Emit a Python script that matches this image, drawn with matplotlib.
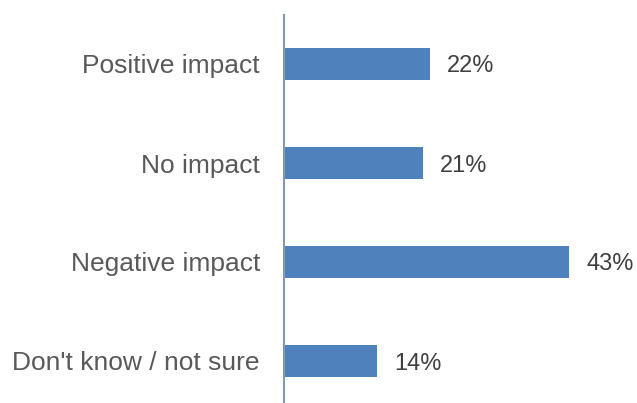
import matplotlib
matplotlib.use("Agg")
import matplotlib.pyplot as plt

categories = ["Positive impact", "No impact", "Negative impact", "Don't know / not sure"]
values = [22, 21, 43, 14]
value_labels = ["22%", "21%", "43%", "14%"]

plt.rcParams['font.family'] = ['Liberation Sans', 'DejaVu Sans']

fig = plt.figure(figsize=(6.37, 4.03), dpi=100)
ax = fig.add_axes([284/637, 0.0, 1 - 284/637, (403 - 15) / 403])

y = list(range(len(categories)))
ax.barh(y, values, height=0.32, color="#4F81BD")
ax.set_ylim(3 + 42/99, -49/99)
ax.set_xlim(0, 353/6.63)

for yi, v, lab in zip(y, values, value_labels):
    ax.annotate(lab, xy=(v, yi), xytext=(12.2, 0), textcoords="offset points",
                ha="left", va="center_baseline", fontsize=17, color="#404040")

ax.set_yticks(y)
ax.set_yticklabels(categories, fontsize=19, color="#595959")
ax.tick_params(axis="y", length=0, pad=24*0.72)
ax.set_xticks([])
for s in ["top", "right", "bottom"]:
    ax.spines[s].set_visible(False)
ax.spines["left"].set_color("#8497B0")
ax.spines["left"].set_linewidth(1.5)

fig.savefig("out.png", dpi=100)
